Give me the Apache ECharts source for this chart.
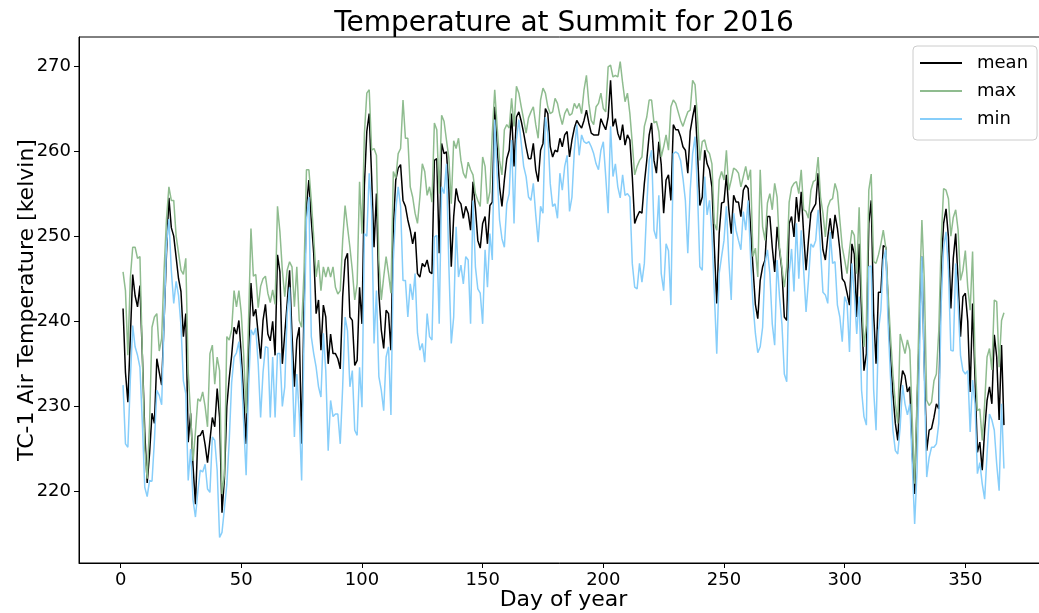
<!DOCTYPE html>
<html>
<head>
<meta charset="utf-8">
<script src="https://cdn.jsdelivr.net/npm/echarts@6/dist/echarts.min.js"></script>
<style>html,body{margin:0;padding:0;background:#fff}#c{width:1039px;height:613px}</style>
</head>
<body>
<div id="c"></div>
<script>
// Daily values, day 1..366 (kelvin)
var meanVals = [
241.5,234,230.5,238,245.5,243,241.7,244.2,236,227,221,224.5,229.2,228,235.6,234,232.5,240,248,254.5,
251,250,247.5,245,243.5,238.2,240.9,225.8,229.2,223,218.5,226.5,226.6,227.2,225.5,223.4,226,228.7,227.6,232.1,
228.7,217.5,221.5,230,233.3,236,239.3,238.5,240.1,236,231,225.6,236,244.5,240.6,241.4,238.5,235.6,240.1,242,
238.5,237.7,240,236,247.8,245.8,235,238.5,242.1,246,238.5,232.3,237.8,239.3,225.6,242.1,253.5,256.6,251.9,248,
240.9,242.5,236.6,241.9,240.5,235,238.5,236.2,236.2,235.6,234.4,242.9,247.2,248,240.5,240.1,234.8,235.4,244,239.7,
256,262.3,264.4,257,248.7,255,243.3,239,236.8,241.3,240.9,236.6,251.1,256.6,258,258.4,254.2,253.5,251.9,250.7,
249.1,250.5,245.6,245.2,246.8,246.4,247.2,245.8,245.6,258.9,259.1,248,260.9,259.7,259.9,255.5,246.4,252.3,255.6,254.2,
253.8,252.1,253.5,252.7,250.7,256.4,253.3,249.5,248.6,251.5,252.3,249.1,253.6,254,265.2,260.5,255.8,253.5,256.6,259.1,
260.1,264.4,258.2,264,264.6,263.5,262.1,260.5,259.1,259.1,260.9,257.8,256.4,260.1,260.9,265,264.4,260.5,259.3,260.1,
259.9,261.5,260.5,261.9,262.3,259.3,261.3,262.7,263.6,263.1,262.7,263.6,264.8,263.3,262.1,261.9,261.9,261.9,263.8,263.1,
262.5,264,268.3,262.9,263.8,262.1,261.3,263.1,260.7,261.9,261.3,257,251.5,252.3,252.9,252.7,256.2,258.9,261.9,263.3,
258.9,257.4,261.1,258.4,252.7,256.6,257.2,254.2,263.1,262.5,262.5,261.7,260.5,260.1,257.4,262.3,264,265.4,260.1,253.6,
254.6,260.1,258.5,257.8,255.8,248.7,242.1,250.3,253.9,254,257.2,253.1,250.3,254.8,254,254,252.3,255.4,256,255.6,
251.1,246.4,242,240.3,244.8,246.4,247.2,252.3,252.3,248.7,245.8,251.1,248.4,246,240.5,240.1,251.5,252.3,249.9,254.6,
251.7,255.2,250.3,246,249.5,252.7,253.3,253.8,257.4,252.3,248.4,247.2,249.9,252.1,249.7,252.5,250.9,248.4,245,244.6,
243.3,241.9,249.1,247.9,240.5,249.1,240.9,234.2,236.2,251.5,254.2,241,235,243.4,243.4,248.9,248.7,242.1,235.8,231.5,
228,226,231.9,234.2,233.6,231.7,232.3,224.4,219.7,230.3,238.9,247.6,234.6,224.8,227.2,227.4,228.7,230.3,229.7,246.4,
251.5,253.2,249.9,241.5,247.4,250.3,244.8,238.2,242.9,243.3,240,231.7,242.1,233.4,224.6,225.8,222.5,227.2,230.7,232.3,
230.3,238.4,235.8,228.4,237.2,227.8
];
var maxVals = [
245.8,243.6,236,245,248.7,248.7,247.4,247.6,236,225,221.5,228,239.3,240.5,240.9,236.5,238,246,252,255.8,
254.2,254.2,250,248,246,245.5,247.4,234,229,223.6,227,230.9,230.6,231.7,230,227.6,236.2,237.2,232.6,235.8,
234.2,219.7,222,238.2,237.8,239,243.6,241.7,243.6,240.9,236,229.2,240,250.9,245.3,245.5,241.6,244.1,245,245.3,
243.3,242.2,243.7,242,253.5,250.5,246,242.9,246,247,246.4,241.7,246.4,240.1,239.3,246,257.8,257.8,254.2,249.9,
245.2,247.2,243.6,246.4,245.2,246.4,245.2,246.4,244,243.2,243.6,249.5,253.6,251.1,248.7,246,242.5,244.4,256.4,250.3,
262,266.8,267.2,260.1,260.3,259.5,247.2,242.5,245.2,247.6,245.6,243.3,257.6,256.8,259.7,260.3,266,261.5,261.5,255.8,
254.6,252.7,251.5,254.6,258.5,257.6,254.8,255.8,254,263.3,262.5,255,264.2,263.5,261.3,259.2,253.8,261.2,260.3,261.5,
258.9,257.4,256.8,258.7,257.8,257.2,255,254.2,253.5,259.3,258.2,253.8,255.2,262.1,267.2,262.9,258.9,257.2,262.5,263.1,
262.7,266.2,262.9,267.6,266.8,265.2,263.7,262.1,263.9,264.6,265.2,263.1,261.5,266,267.4,266.8,265.2,264.4,264.6,266.2,
265.6,264.2,263.1,264.4,265,264.2,264.4,265.6,265,265.6,264.4,267.2,268.9,265.6,263.6,263.1,265.2,265.6,266.8,265,
264.6,269.9,270.1,268.7,268.9,268.7,270.5,268,265.8,266.8,264.4,260.9,257.2,258.2,258.9,259.3,262.9,264,266,266,
263.3,263.5,262.3,259.3,260.5,261.9,260.1,265.2,266,265.6,264.6,263.6,262.9,263.8,264.6,264.8,268.3,267.8,264,258.9,
261.1,261.3,260.1,259.7,258.5,251.5,250.7,256.6,257.6,256.6,260.1,255.4,256.6,258,257.8,257.4,255.8,257,258.2,256.6,
257.8,247.6,248.6,245.2,257.8,251.1,249.5,253.9,255,253.1,256.2,254.6,248.7,246.4,244,246.4,254,255.7,256.2,256.4,
255,257.8,253.1,252.9,252.1,255.4,256.4,256.6,259.3,254.6,252.7,249.9,253.4,254.2,254.4,256.2,255.2,251.9,248.7,247.2,
245.6,248.4,250.7,250.1,245.6,253.4,243.3,237,239.7,255.4,257.3,247,246.8,247.8,249.1,250.7,248.7,243.3,238.2,233.8,
230.3,228,238.5,237.4,236.2,237.8,236.6,228.4,220.9,231.1,242.9,251.9,244.8,230.7,230.1,230.5,233,233.8,238.9,249.5,
255.6,255.4,254.4,250,252.2,253.1,250.7,244.8,246,248.3,244,241.3,248.2,235.8,229.5,229.7,226,230.3,235.8,236.8,
234.3,242.5,242.3,234.6,240.1,241
];
var minVals = [
232.5,225.6,225.2,233,239.5,237,236,234.6,228,220.5,219.4,221.3,221.2,226,231.9,231.3,230.2,240,249,252,
246,242.1,244.7,243,239.5,233,231.5,221.3,225,219,217,220,222.5,222.3,223.2,220.3,219.9,226.4,226,222.5,
214.6,215.2,218,220.8,226,232.8,235.8,236.3,237.6,234,228,221.9,232,239,238.4,239.2,235,228.7,234,237,
236.9,228.7,235.8,228.7,236.2,236.2,230,232.3,240.9,244,235.4,226.4,233.8,229.1,221.3,238.2,251.9,254.6,238.2,236.2,
234.6,232.3,231.1,238.6,234.2,224.8,230.7,228.8,229.1,229.1,225.6,232.3,240.5,238.9,232.3,234.2,227.2,226.6,234.6,229.9,
250.3,250,257.4,253.1,237.4,243.6,233.5,231.9,229.5,235.8,237,229,247.2,253.1,255.8,253.5,244.8,244.8,240.5,244.4,
242.5,245.6,238.6,236.6,237.4,235.2,240.9,238.2,237.8,249.9,250.1,239.7,255.8,255,258.5,246.5,237.4,240.5,251.1,245.2,
246.6,244.4,247.6,247.2,239.7,254.2,246.4,243.8,243.3,239.7,248.4,244,250.3,247.2,263.7,257.4,251.9,249.7,248.7,253.8,
255,261.3,251.5,261.3,263.7,260.9,258.2,257,254.6,254.2,256.2,252.5,249.3,253.5,252.7,264,262.1,256.2,253.5,253.8,
252.1,257.4,255.4,258.2,259.5,252.9,254.6,260.1,263.1,259.5,261.9,261.1,260.9,261.1,260.5,259.7,258.5,257.8,260.1,261.1,
257,252.7,262.9,257,258.5,255.8,254.5,257.2,254.8,255,254.6,246.8,244,243.8,246.8,244.6,246.8,253.5,258.9,260.1,
250.7,249.7,254.8,245.6,243.6,249.1,248.3,241.9,259.7,259.9,259.7,258.9,256.8,254.2,248,255.4,259.7,261.7,255.4,246.4,
246,257,252.5,254.2,250.3,243.3,236.2,245.6,247.6,249.5,253.5,247.2,242.5,252.7,250.7,249.5,248.4,252.9,250.7,254.2,
247.6,242.1,238.6,236.3,237,239.3,246.8,248.4,245.6,239.7,237.2,247.2,242.9,239.7,233.8,232.9,245.6,248.5,243.5,251.5,
245,250.7,246,241.1,244.8,249.1,248.7,249.5,253.1,248.4,243.4,243.1,242.1,250.5,246.8,247,241.9,240.5,237.6,242.9,
242.1,236.4,246.8,243.3,238.5,242.9,231.9,228.8,227.8,246.4,246.5,232,227.2,238.9,241.3,247.2,248.4,239.7,233.4,227.2,
224.8,224.4,227.6,232.5,230.3,229,230.3,223.2,216.2,222.5,235.8,247.6,233.4,221.7,224,225.2,225.2,225.6,228,242.1,
248.7,250.5,246,236.6,236.5,246.8,242.1,236,234.2,233.8,234.2,227,233.1,230.3,222.1,223.4,220.9,219.1,224.4,229.1,
228.4,227.2,223.2,220.1,230.3,222.7
];
var xTicks = [0, 50, 100, 150, 200, 250, 300, 350];
var yTicks = [220, 230, 240, 250, 260, 270];
var seriesNames = ['mean', 'max', 'min'];
var seriesColors = ['#000000', '#8fbc8f', '#87cefa'];

function pairs(vals) {
  return vals.map(function (v, i) { return [i + 1, v]; });
}
var FONT = 'DejaVu Sans';
var chart = echarts.init(document.getElementById('c'), null, {renderer: 'canvas'});
var allVals = [meanVals, maxVals, minVals];
chart.setOption({
  animation: false,
  backgroundColor: '#ffffff',
  title: {
    text: 'Temperature at Summit for 2016',
    left: 564, top: 10, textAlign: 'center', padding: 0,
    textStyle: {fontFamily: FONT, fontSize: 28, fontWeight: 'normal', color: '#000'}
  },
  legend: {
    data: seriesNames.map(function (n) { return {name: n, icon: 'rect'}; }),
    orient: 'vertical',
    left: 913, top: 46,
    padding: [7, 9, 11, 7],
    itemWidth: 42, itemHeight: 2, itemGap: 8,
    backgroundColor: 'rgba(255,255,255,0.8)',
    borderColor: '#cccccc', borderWidth: 1, borderRadius: 4,
    textStyle: {fontFamily: FONT, fontSize: 18, color: '#000', padding: [0, 0, 0, 10], lineHeight: 20, height: 20}
  },
  grid: {
    left: 79, top: 37, width: 969, height: 526,
    show: true, borderColor: '#000', borderWidth: 1,
    outerBoundsMode: 'none'
  },
  xAxis: {
    type: 'value', min: -17.25, max: 384.25,
    name: 'Day of year', nameLocation: 'middle', nameGap: 26, nameMoveOverlap: false,
    nameTextStyle: {fontFamily: FONT, fontSize: 22, color: '#000'},
    splitLine: {show: false},
    axisLine: {show: true, onZero: false, lineStyle: {color: '#000', width: 1}},
    axisTick: {show: true, inside: false, length: 5, customValues: xTicks, lineStyle: {color: '#000'}},
    axisLabel: {show: true, margin: 8, customValues: xTicks, fontFamily: FONT, fontSize: 18, color: '#000'}
  },
  yAxis: {
    type: 'value', min: 211.6, max: 273.4,
    name: 'TC-1 Air Temperature [kelvin]', nameLocation: 'middle', nameGap: 41, nameRotate: 90, nameMoveOverlap: false,
    nameTextStyle: {fontFamily: FONT, fontSize: 22, color: '#000'},
    splitLine: {show: false},
    axisLine: {show: true, onZero: false, lineStyle: {color: '#000', width: 1}},
    axisTick: {show: true, inside: false, length: 5, customValues: yTicks, lineStyle: {color: '#000'}},
    axisLabel: {show: true, margin: 8, customValues: yTicks, fontFamily: FONT, fontSize: 18, color: '#000'}
  },
  series: seriesNames.map(function (n, k) {
    return {
      name: n, type: 'line', data: pairs(allVals[k]),
      symbol: 'none', showSymbol: false,
      itemStyle: {color: seriesColors[k]},
      lineStyle: {color: seriesColors[k], width: 1.5},
      z: 2 + k
    };
  })
});
</script>
</body>
</html>
